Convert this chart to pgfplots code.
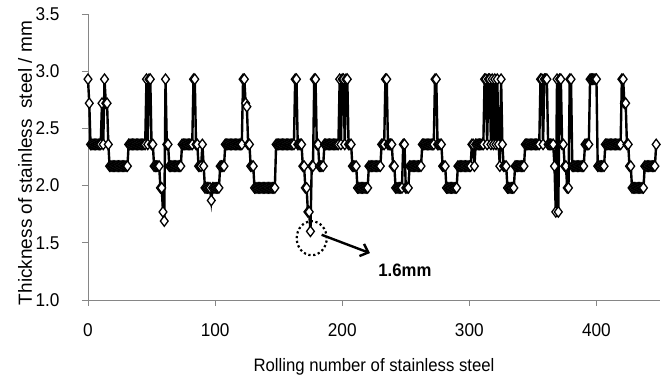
\documentclass[border=0pt]{standalone}
\usepackage{fontspec}
\setmainfont{Liberation Sans}[FakeStretch=0.93]
\newfontfamily\ylabfont{Liberation Sans}
\usepackage{pgfplots}
\usepackage{pgfplotstable}
\pgfplotsset{compat=1.18}
\usetikzlibrary{arrows.meta}
\definecolor{axgray}{RGB}{134,134,134}

\pgfplotstableread[row sep=\\]{
y\\
2.93\\2.72\\
2.36\\2.36\\2.36\\2.36\\2.36\\2.36\\2.36\\2.36\\
2.36\\2.72\\2.36\\2.93\\2.72\\2.72\\2.36\\
2.17\\2.17\\2.17\\2.17\\2.17\\2.17\\2.17\\2.17\\2.17\\2.17\\2.17\\2.17\\2.17\\2.17\\2.17\\
2.36\\2.36\\2.36\\2.36\\2.36\\2.36\\2.36\\2.36\\2.36\\2.36\\2.36\\2.36\\2.36\\2.36\\
2.93\\2.36\\2.93\\2.93\\2.36\\2.36\\
2.17\\2.17\\2.17\\2.17\\2.17\\
1.98\\1.98\\1.77\\1.69\\2.93\\2.36\\2.36\\
2.17\\2.17\\2.17\\2.17\\2.17\\2.17\\2.17\\2.17\\2.17\\2.17\\
2.36\\2.36\\2.36\\2.36\\2.36\\2.36\\2.36\\2.36\\2.36\\
2.93\\2.93\\2.36\\2.36\\2.17\\2.17\\2.17\\2.36\\2.17\\
1.98\\1.98\\1.98\\1.98\\1.98\\
1.87\\
1.98\\1.98\\1.98\\1.98\\1.98\\1.98\\
2.17\\2.17\\2.17\\2.17\\
2.36\\2.36\\2.36\\2.36\\2.36\\2.36\\2.36\\2.36\\2.36\\2.36\\2.36\\2.36\\2.36\\2.36\\
2.93\\2.93\\2.72\\2.69\\2.36\\2.36\\
2.17\\2.17\\2.17\\
1.98\\1.98\\1.98\\1.98\\1.98\\1.98\\1.98\\1.98\\1.98\\1.98\\1.98\\1.98\\1.98\\1.98\\1.98\\1.98\\1.98\\
2.36\\2.36\\2.36\\2.36\\2.36\\2.36\\2.36\\2.36\\2.36\\2.36\\2.36\\2.36\\2.36\\2.36\\2.36\\
2.93\\2.93\\
2.36\\2.36\\2.36\\2.36\\
2.17\\2.17\\1.98\\1.98\\1.77\\1.77\\1.6\\2.17\\2.17\\2.93\\2.93\\2.36\\2.36\\
2.17\\2.17\\2.17\\2.17\\
2.36\\2.36\\2.36\\2.36\\2.36\\2.36\\2.36\\2.36\\2.36\\2.36\\2.36\\2.36\\
2.93\\2.36\\2.93\\2.93\\2.36\\2.93\\2.93\\2.36\\2.36\\2.36\\
2.17\\2.17\\2.17\\2.17\\
1.98\\1.98\\1.98\\1.98\\1.98\\1.98\\1.98\\1.98\\1.98\\
2.17\\2.17\\2.17\\2.17\\2.17\\2.17\\2.17\\2.17\\2.17\\2.17\\
2.36\\2.36\\2.36\\
2.93\\2.93\\
2.36\\2.36\\2.36\\2.36\\
2.17\\2.17\\
1.98\\1.98\\1.98\\1.98\\1.98\\1.98\\
2.36\\2.36\\
1.98\\1.98\\1.98\\
2.17\\2.17\\2.17\\2.17\\2.17\\2.17\\2.17\\2.17\\2.17\\2.17\\
2.36\\2.36\\2.36\\2.36\\2.36\\2.36\\2.36\\2.36\\2.36\\2.36\\
2.93\\2.93\\
2.36\\2.36\\2.36\\2.36\\
2.17\\2.17\\2.17\\
1.98\\1.98\\1.98\\1.98\\1.98\\1.98\\1.98\\1.98\\1.98\\
2.17\\2.17\\2.17\\2.17\\2.17\\2.17\\2.17\\2.17\\2.17\\2.17\\2.17\\
2.36\\2.36\\2.17\\
2.36\\2.36\\2.36\\2.36\\2.36\\2.36\\2.36\\
2.93\\2.93\\2.36\\2.93\\2.93\\2.36\\2.93\\2.36\\2.93\\2.36\\2.93\\2.36\\2.17\\2.93\\2.36\\2.17\\2.17\\2.17\\
1.98\\1.98\\1.98\\1.98\\1.98\\1.98\\
2.17\\2.17\\2.17\\2.17\\2.17\\2.17\\2.17\\2.17\\
2.36\\2.36\\2.36\\2.36\\2.36\\2.36\\2.36\\2.36\\2.36\\2.36\\2.36\\2.36\\
2.93\\2.93\\2.36\\2.93\\2.93\\2.93\\
2.36\\2.36\\2.36\\2.36\\2.36\\
2.17\\1.77\\2.93\\1.77\\2.93\\2.93\\2.36\\2.36\\2.17\\2.17\\1.98\\1.98\\2.93\\2.93\\
2.17\\2.17\\2.17\\2.17\\2.17\\2.17\\2.17\\2.17\\2.17\\2.17\\
2.36\\2.36\\2.36\\2.36\\
2.93\\2.93\\2.93\\2.93\\2.93\\2.93\\
2.17\\2.17\\2.17\\2.17\\2.17\\2.17\\
2.36\\2.36\\2.36\\2.36\\2.36\\2.36\\2.36\\2.36\\2.36\\2.36\\2.36\\2.36\\2.36\\
2.93\\2.93\\2.72\\2.72\\2.36\\2.36\\2.17\\2.17\\
1.98\\1.98\\1.98\\1.98\\1.98\\1.98\\1.98\\1.98\\1.98\\1.98\\
2.17\\2.17\\2.17\\2.17\\2.17\\2.17\\2.17\\2.17\\2.17\\
2.36\\
}\datatable

\begin{document}
\begin{tikzpicture}
\useasboundingbox (-88pt,-79pt) rectangle (582pt,300pt);
\begin{axis}[
  scale only axis,
  width=572pt, height=286pt,
  xmin=0, xmax=450, ymin=1, ymax=3.5,
  axis x line=bottom, axis y line=left,
  axis line style={axgray, line width=0.8pt, -},
  xtick={0,100,200,300,400},
  ytick={1,1.5,2,2.5,3,3.5},
  tick align=outside,
  major tick length=6pt,
  tick style={axgray, line width=0.8pt},
  /pgf/number format/assume math mode=true,
  yticklabel style={/pgf/number format/fixed, /pgf/number format/fixed zerofill, /pgf/number format/precision=1},
  ticklabel style={font=\fontsize{18.5}{21}\selectfont, text=black},
  xticklabel style={anchor=base, yshift=-31pt},
  yticklabel style={anchor=east, xshift=-19pt},
  xlabel={Rolling number of stainless steel},
  ylabel={Thickness of stainless \ steel / mm},
  xlabel style={font=\fontsize{18}{21}\selectfont, at={(axis description cs:0.5,-0.234)}, anchor=center},
  ylabel style={font=\ylabfont\fontsize{19}{21}\selectfont, at={(axis description cs:-0.110,0.479)}, anchor=center},
  clip=false,
]
\addplot[black, line width=2.4pt, mark=diamond*, mark size=5.2pt,
  mark options={fill=white, draw=black, line width=1.3pt, solid}]
  table[x expr=\coordindex, y=y] {\datatable};
\draw[black, line width=2.2pt, dash pattern=on 2.2pt off 2.6pt]
  (axis cs:176,1.54) ellipse [x radius=15pt, y radius=17pt];
\draw[black, line width=2.4pt, -{Straight Barb[length=7pt, width=13pt, line width=2.4pt]}]
  (axis cs:183.8,1.57) -- (axis cs:221.8,1.41);
\node[font=\fontsize{18}{21}\selectfont\bfseries, anchor=center] at (axis cs:249.3,1.26) {1.6mm};
\end{axis}
\end{tikzpicture}
\end{document}
